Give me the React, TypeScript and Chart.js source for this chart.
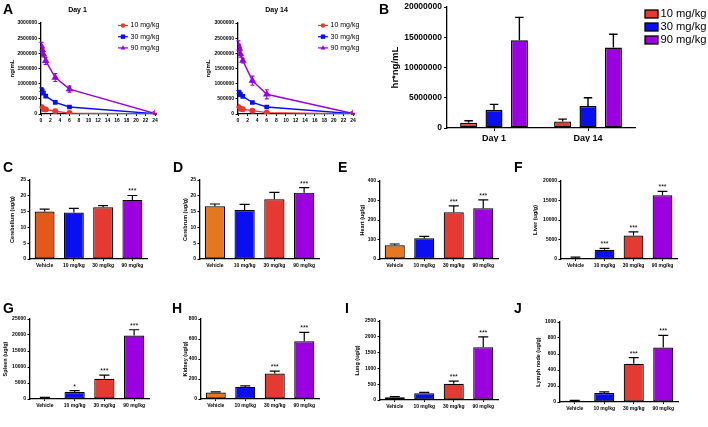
import React, { useEffect, useRef } from 'react';
import { Chart, registerables } from 'chart.js';

Chart.register(...registerables);

const FONT = "'Liberation Sans', Arial, Helvetica, sans-serif";

// ---------- Panel A : plasma concentration-time ----------
const timesH = [0.083, 0.25, 0.5, 1, 3, 6, 24];
const doseLabels = ['10 mg/kg', '30 mg/kg', '90 mg/kg'];
const day1Dose10 = [230000, 200000, 165000, 150000, 90000, 30000, 3000];
const day1Dose10Sd = [25000, 20000, 15000, 15000, 10000, 8000, 2000];
const day1Dose30 = [800000, 760000, 690000, 590000, 385000, 230000, 10000];
const day1Dose30Sd = [60000, 50000, 40000, 35000, 30000, 20000, 5000];
const day1Dose90 = [2230000, 2120000, 1970000, 1750000, 1200000, 820000, 15000];
const day1Dose90Sd = [130000, 110000, 90000, 120000, 130000, 100000, 10000];
const day14Dose10 = [230000, 200000, 175000, 155000, 110000, 45000, 3000];
const day14Dose10Sd = [20000, 20000, 15000, 15000, 10000, 8000, 2000];
const day14Dose30 = [720000, 700000, 640000, 580000, 380000, 230000, 10000];
const day14Dose30Sd = [50000, 50000, 40000, 35000, 30000, 20000, 5000];
const day14Dose90 = [2260000, 2170000, 1980000, 1760000, 1100000, 650000, 15000];
const day14Dose90Sd = [150000, 130000, 110000, 80000, 150000, 150000, 10000];
const ticksAY = [0, 500000, 1000000, 1500000, 2000000, 2500000, 3000000];
const ticksAX = [0, 2, 4, 6, 8, 10, 12, 14, 16, 18, 20, 22, 24];

// ---------- Panel B : AUC ----------
const daysB = ['Day 1', 'Day 14'];
const aucDose10 = [870000, 1090000];
const aucDose10Sd = [330000, 380000];
const aucDose30 = [3000000, 3640000];
const aucDose30Sd = [900000, 1360000];
const aucDose90 = [14500000, 13300000];
const aucDose90Sd = [3800000, 2200000];
const ticksB = [0, 5000000, 10000000, 15000000, 20000000];

// ---------- Panels C-J : tissue distribution ----------
const groups = ['Vehicle', '10 mg/kg', '30 mg/kg', '90 mg/kg'];
const cerebellum = [15.0, 14.7, 16.4, 18.7];
const cerebellumSd = [0.8, 1.3, 0.5, 1.4];
const cerebellumSig = ['', '', '', '***'];
const ticksC = [0, 5, 10, 15, 20, 25];
const cerebrum = [16.7, 15.5, 18.9, 21.0];
const cerebrumSd = [0.7, 1.8, 2.2, 1.6];
const cerebrumSig = ['', '', '', '***'];
const ticksD = [0, 5, 10, 15, 20, 25];
const heart = [70, 107, 240, 260];
const heartSd = [7, 9, 32, 43];
const heartSig = ['', '', '***', '***'];
const ticksE = [0, 100, 200, 300, 400];
const liver = [250, 2380, 6040, 16340];
const liverSd = [250, 340, 940, 1020];
const liverSig = ['', '***', '***', '***'];
const ticksF = [0, 5000, 10000, 15000, 20000];
const spleen = [320, 2200, 6300, 19850];
const spleenSd = [200, 420, 1160, 1790];
const spleenSig = ['', '*', '***', '***'];
const ticksG = [0, 5000, 10000, 15000, 20000, 25000];
const kidney = [64, 121, 255, 578];
const kidneySd = [7, 10, 24, 88];
const kidneySig = ['', '', '***', '***'];
const ticksH = [0, 200, 400, 600, 800];
const lung = [84, 210, 515, 1670];
const lungSd = [20, 31, 85, 326];
const lungSig = ['', '', '***', '***'];
const ticksI = [0, 500, 1000, 1500, 2000, 2500];
const lymph = [17, 113, 479, 681];
const lymphSd = [4, 13, 76, 151];
const lymphSig = ['', '', '***', '***'];
const ticksJ = [0, 200, 400, 600, 800, 1000];

// ---------- colours ----------
const RED = '#E53A32';
const BLUE = '#0A0FF2';
const PURPLE = '#9A00E0';
const ORANGE = '#E4771F';
const ORANGE_C = '#E2591B';

// ---------- plugins ----------
const valOf = (d: any) => (typeof d === 'object' && d !== null ? d.y : d);

const errorBars = {
  id: 'errorBars',
  afterDatasetsDraw(chart: any, _a: any, o: any) {
    const { ctx } = chart;
    const ys = chart.scales.y;
    chart.data.datasets.forEach((ds: any, i: number) => {
      if (!ds.errors) return;
      const meta = chart.getDatasetMeta(i);
      ctx.save();
      ctx.strokeStyle = o.both ? ds.borderColor : '#000';
      ctx.lineWidth = o.lineWidth || 1.2;
      meta.data.forEach((el: any, j: number) => {
        const v = valOf(ds.data[j]);
        const e = ds.errors[j];
        const x = el.x;
        const yHi = ys.getPixelForValue(v + e);
        const yLo = o.both ? ys.getPixelForValue(Math.max(0, v - e)) : el.y;
        const cap = o.both ? o.cap : el.width * o.capFrac;
        ctx.beginPath();
        ctx.moveTo(x, yLo);
        ctx.lineTo(x, yHi);
        ctx.moveTo(x - cap / 2, yHi);
        ctx.lineTo(x + cap / 2, yHi);
        if (o.both) {
          ctx.moveTo(x - cap / 2, yLo);
          ctx.lineTo(x + cap / 2, yLo);
        }
        ctx.stroke();
      });
      ctx.restore();
    });
  },
};

const starsPlugin = {
  id: 'stars',
  afterDatasetsDraw(chart: any, _a: any, o: any) {
    const { ctx } = chart;
    const ys = chart.scales.y;
    chart.data.datasets.forEach((ds: any, i: number) => {
      if (!ds.stars) return;
      const meta = chart.getDatasetMeta(i);
      ctx.save();
      ctx.fillStyle = '#000';
      ctx.font = `${o.size}px ${FONT}`;
      ctx.textAlign = 'center';
      ctx.textBaseline = 'alphabetic';
      meta.data.forEach((el: any, j: number) => {
        const s = ds.stars[j];
        if (!s) return;
        const top = ys.getPixelForValue(ds.data[j] + (ds.errors ? ds.errors[j] : 0));
        ctx.fillText(s, el.x, top - o.gap);
      });
      ctx.restore();
    });
  },
};

function drawMarker(ctx: CanvasRenderingContext2D, style: string, x: number, y: number, r: number, color: string) {
  ctx.fillStyle = color;
  ctx.beginPath();
  if (style === 'rect') {
    ctx.rect(x - r, y - r, 2 * r, 2 * r);
  } else if (style === 'triangle') {
    const rr = r * 1.2;
    ctx.moveTo(x, y - rr);
    ctx.lineTo(x + rr * 0.95, y + rr * 0.6);
    ctx.lineTo(x - rr * 0.95, y + rr * 0.6);
    ctx.closePath();
  } else {
    ctx.arc(x, y, r, 0, Math.PI * 2);
  }
  ctx.fill();
}

const lineLegend = {
  id: 'lineLegend',
  afterDraw(chart: any, _a: any, o: any) {
    const { ctx } = chart;
    chart.data.datasets.forEach((ds: any, i: number) => {
      const y = o.y + i * o.dy;
      ctx.save();
      ctx.strokeStyle = ds.borderColor;
      ctx.lineWidth = 1.2;
      ctx.beginPath();
      ctx.moveTo(o.x, y);
      ctx.lineTo(o.x + o.len, y);
      ctx.stroke();
      drawMarker(ctx, ds.pointStyle, o.x + o.len / 2, y, o.r, ds.borderColor);
      ctx.fillStyle = '#000';
      ctx.font = `${o.size}px ${FONT}`;
      ctx.textAlign = 'left';
      ctx.textBaseline = 'middle';
      ctx.fillText(ds.label, o.x + o.len + o.gap, y);
      ctx.restore();
    });
  },
};

const boxLegend = {
  id: 'boxLegend',
  afterDraw(chart: any, _a: any, o: any) {
    const { ctx } = chart;
    chart.data.datasets.forEach((ds: any, i: number) => {
      const y = o.y + i * o.dy;
      ctx.save();
      ctx.fillStyle = ds.backgroundColor;
      ctx.fillRect(o.x, y - o.h / 2, o.w, o.h);
      ctx.strokeStyle = '#000';
      ctx.lineWidth = 1.3;
      ctx.strokeRect(o.x, y - o.h / 2, o.w, o.h);
      ctx.fillStyle = '#000';
      ctx.font = `${o.size}px ${FONT}`;
      ctx.textAlign = 'left';
      ctx.textBaseline = 'middle';
      ctx.fillText(ds.label, o.x + o.w + o.gap, y);
      ctx.restore();
    });
  },
};

// ---------- helpers ----------
type Box = { x: number; y: number; w: number; h: number };
type Area = { l: number; t: number; r: number; b: number };

const setTicks = (arr: number[]) => (s: any) => {
  s.ticks = arr.map((v) => ({ value: v }));
};

function axisCommon(tickLen: number, fontSize: number, pad: number) {
  return {
    grid: { display: true, drawOnChartArea: false, drawTicks: true, tickLength: tickLen, color: '#000', lineWidth: 1, offset: false },
    border: { display: true, color: '#000', width: 1.3 },
    ticks: { font: { size: fontSize, weight: 'bold', family: FONT }, color: '#000', padding: pad, autoSkip: false, maxRotation: 0, callback: function (this: any, v: any) { return this.type === 'category' ? this.getLabelForValue(v) : String(v); } },
  };
}

function yTitle(text: string, size: number, offset: number) {
  const lh = size * 1.2;
  return { display: true, text, color: '#000', font: { size, weight: 'bold', family: FONT }, padding: { top: Math.max(0, offset - lh / 2), bottom: 0 } };
}

function tissueConfig(canvas: Box, area: Area, titleX: number, title: string, values: number[], sd: number[], sig: string[], ticks: number[], vehicleColor: string) {
  const yw = area.l - canvas.x;
  const xh = canvas.y + canvas.h - area.b;
  const ax = axisCommon(2, 5, 2);
  const ay = axisCommon(2.5, 5, 1.5);
  return {
    type: 'bar',
    data: {
      labels: groups,
      datasets: [
        {
          data: values,
          errors: sd,
          stars: sig,
          backgroundColor: [vehicleColor, BLUE, RED, PURPLE],
          borderColor: '#000',
          borderWidth: 1.2,
          borderSkipped: false,
          barPercentage: 0.68,
          categoryPercentage: 1,
        },
      ],
    },
    options: {
      responsive: false,
      animation: false,
      devicePixelRatio: 1,
      layout: { padding: { top: area.t - canvas.y, right: canvas.x + canvas.w - area.r, left: 0, bottom: 0 } },
      plugins: {
        legend: { display: false },
        tooltip: { enabled: false },
        errorBars: { capFrac: 0.5, lineWidth: 1.2 },
        stars: { size: 7, gap: 2 },
      },
      scales: {
        x: { ...ax, afterFit: (s: any) => { s.height = xh; } },
        y: {
          ...ay,
          min: 0,
          max: ticks[ticks.length - 1],
          afterBuildTicks: setTicks(ticks),
          title: yTitle(title, 5.5, titleX - canvas.x),
          afterFit: (s: any) => { s.width = yw; },
        },
      },
    },
    plugins: [errorBars, starsPlugin],
  };
}

function pkConfig(canvas: Box, area: Area, titleX: number, dayTitle: string, series: number[][], sds: number[][]) {
  const yw = area.l - canvas.x;
  const xh = canvas.y + canvas.h - area.b;
  const titleSize = 7;
  const lh = titleSize * 1.2;
  const tTop = 10 - canvas.y - lh / 2;
  const tBottom = area.t - canvas.y - tTop - lh;
  const colors = [RED, BLUE, PURPLE];
  const styles = ['circle', 'rect', 'triangle'];
  const radii = [2.3, 2.3, 3];
  const ax = axisCommon(2, 5, 1.5);
  const ay = axisCommon(2.5, 5, 1.5);
  return {
    type: 'line',
    data: {
      datasets: series.map((vals, k) => ({
        label: doseLabels[k],
        data: timesH.map((t, i) => ({ x: t, y: vals[i] })),
        errors: sds[k],
        borderColor: colors[k],
        backgroundColor: colors[k],
        pointBackgroundColor: colors[k],
        pointBorderColor: colors[k],
        pointStyle: styles[k],
        pointRadius: radii[k],
        borderWidth: 1.4,
        tension: 0,
      })),
    },
    options: {
      responsive: false,
      animation: false,
      devicePixelRatio: 1,
      layout: { padding: { top: 0, right: canvas.x + canvas.w - area.r, left: 0, bottom: 0 } },
      plugins: {
        legend: { display: false },
        tooltip: { enabled: false },
        title: { display: true, text: dayTitle, color: '#000', font: { size: titleSize, weight: 'bold', family: FONT }, padding: { top: tTop, bottom: tBottom } },
        errorBars: { both: true, cap: 4, lineWidth: 1.1 },
        lineLegend: { x: 118, y: 25.5, dy: 11.2, len: 10, gap: 2.5, r: 2.2, size: 7 },
      },
      scales: {
        x: { ...ax, type: 'linear', min: 0, max: 24, afterBuildTicks: setTicks(ticksAX), afterFit: (s: any) => { s.height = xh; } },
        y: {
          ...ay,
          min: 0,
          max: 3000000,
          afterBuildTicks: setTicks(ticksAY),
          title: yTitle('ng/mL', 6, titleX - canvas.x),
          afterFit: (s: any) => { s.width = yw; },
        },
      },
    },
    plugins: [errorBars, lineLegend],
  };
}

function aucConfig(canvas: Box, area: Area, titleX: number) {
  const yw = area.l - canvas.x;
  const xh = canvas.y + canvas.h - area.b;
  const ax = axisCommon(3, 9, 2);
  const ay = axisCommon(3, 8.5, 2);
  const mk = (label: string, data: number[], sd: number[], color: string) => ({
    label,
    data,
    errors: sd,
    backgroundColor: color,
    borderColor: '#000',
    borderWidth: 1.4,
    borderSkipped: false,
    barPercentage: 0.67,
    categoryPercentage: 0.81,
  });
  return {
    type: 'bar',
    data: {
      labels: daysB,
      datasets: [
        mk(doseLabels[0], aucDose10, aucDose10Sd, RED),
        mk(doseLabels[1], aucDose30, aucDose30Sd, BLUE),
        mk(doseLabels[2], aucDose90, aucDose90Sd, PURPLE),
      ],
    },
    options: {
      responsive: false,
      animation: false,
      devicePixelRatio: 1,
      layout: { padding: { top: area.t - canvas.y, right: canvas.x + canvas.w - area.r, left: 0, bottom: 0 } },
      plugins: {
        legend: { display: false },
        tooltip: { enabled: false },
        errorBars: { capFrac: 0.5, lineWidth: 1.4 },
        boxLegend: { x: 260, y: 14, dy: 13, w: 13, h: 8, gap: 2.5, size: 11.2 },
      },
      scales: {
        x: { ...ax, afterFit: (s: any) => { s.height = xh; } },
        y: {
          ...ay,
          min: 0,
          max: 20000000,
          afterBuildTicks: setTicks(ticksB),
          title: yTitle('hr*ng/mL', 9.5, titleX - canvas.x),
          afterFit: (s: any) => { s.width = yw; },
        },
      },
    },
    plugins: [errorBars, boxLegend],
  };
}

function ChartBox({ box, make }: { box: Box; make: () => any }) {
  const ref = useRef<HTMLCanvasElement>(null);
  useEffect(() => {
    const chart = new Chart(ref.current as HTMLCanvasElement, make());
    return () => chart.destroy();
  }, []);
  return (
    <canvas
      ref={ref}
      width={box.w}
      height={box.h}
      style={{ position: 'absolute', left: box.x, top: box.y, width: box.w, height: box.h }}
    />
  );
}

const letterStyle = (x: number, y: number): React.CSSProperties => ({
  position: 'absolute',
  left: x,
  top: y - 1.5,
  fontFamily: FONT,
  fontWeight: 'bold',
  fontSize: 14,
  lineHeight: 1,
  color: '#000',
});

const boxA1: Box = { x: 0, y: 0, w: 186, h: 128 };
const boxA2: Box = { x: 200, y: 0, w: 180, h: 128 };
const boxB: Box = { x: 385, y: 0, w: 323, h: 142 };
const boxC: Box = { x: 0, y: 170, w: 160, h: 106 };
const boxD: Box = { x: 172, y: 170, w: 160, h: 106 };
const boxE: Box = { x: 352, y: 170, w: 158, h: 106 };
const boxF: Box = { x: 525, y: 170, w: 170, h: 106 };
const boxG: Box = { x: 0, y: 309, w: 160, h: 107 };
const boxH: Box = { x: 172, y: 309, w: 160, h: 107 };
const boxI: Box = { x: 350, y: 311, w: 160, h: 106 };
const boxJ: Box = { x: 525, y: 312, w: 170, h: 106 };

export default function App() {
  return (
    <div style={{ position: 'absolute', left: 0, top: 0, width: 708, height: 427, background: '#fff', overflow: 'hidden' }}>
      <ChartBox box={boxA1} make={() => pkConfig(boxA1, { l: 41, t: 23, r: 155, b: 114 }, 12, 'Day 1', [day1Dose10, day1Dose30, day1Dose90], [day1Dose10Sd, day1Dose30Sd, day1Dose90Sd])} />
      <ChartBox box={boxA2} make={() => pkConfig(boxA2, { l: 238, t: 23, r: 353, b: 114 }, 208, 'Day 14', [day14Dose10, day14Dose30, day14Dose90], [day14Dose10Sd, day14Dose30Sd, day14Dose90Sd])} />
      <ChartBox box={boxB} make={() => aucConfig(boxB, { l: 447, t: 5, r: 635, b: 128 }, 395)} />
      <ChartBox box={boxC} make={() => tissueConfig(boxC, { l: 30, t: 180, r: 147, b: 259 }, 12, 'Cerebellum (ug/g)', cerebellum, cerebellumSd, cerebellumSig, ticksC, ORANGE_C)} />
      <ChartBox box={boxD} make={() => tissueConfig(boxD, { l: 200, t: 180, r: 319, b: 259 }, 185, 'Cerebrum (ug/g)', cerebrum, cerebrumSd, cerebrumSig, ticksD, ORANGE)} />
      <ChartBox box={boxE} make={() => tissueConfig(boxE, { l: 380, t: 181, r: 498, b: 259 }, 362, 'Heart (ug/g)', heart, heartSd, heartSig, ticksE, ORANGE)} />
      <ChartBox box={boxF} make={() => tissueConfig(boxF, { l: 561, t: 181, r: 677, b: 259 }, 535, 'Liver (ug/g)', liver, liverSd, liverSig, ticksF, ORANGE)} />
      <ChartBox box={boxG} make={() => tissueConfig(boxG, { l: 30, t: 319, r: 149, b: 399 }, 5, 'Spleen (ug/g)', spleen, spleenSd, spleenSig, ticksG, ORANGE)} />
      <ChartBox box={boxH} make={() => tissueConfig(boxH, { l: 201, t: 319, r: 319, b: 399 }, 185, 'Kidney (ug/g)', kidney, kidneySd, kidneySig, ticksH, ORANGE)} />
      <ChartBox box={boxI} make={() => tissueConfig(boxI, { l: 380, t: 321, r: 498, b: 400 }, 357, 'Lung (ug/g)', lung, lungSd, lungSig, ticksI, ORANGE)} />
      <ChartBox box={boxJ} make={() => tissueConfig(boxJ, { l: 560, t: 322, r: 678, b: 402 }, 538, 'Lymph node (ug/g)', lymph, lymphSd, lymphSig, ticksJ, ORANGE)} />
      <div style={letterStyle(3, 3)}>A</div>
      <div style={letterStyle(379, 3)}>B</div>
      <div style={letterStyle(3, 161)}>C</div>
      <div style={letterStyle(173, 161)}>D</div>
      <div style={letterStyle(338, 161)}>E</div>
      <div style={letterStyle(514, 161)}>F</div>
      <div style={letterStyle(3, 302)}>G</div>
      <div style={letterStyle(172, 302)}>H</div>
      <div style={letterStyle(345, 302)}>I</div>
      <div style={letterStyle(514, 302)}>J</div>
    </div>
  );
}
